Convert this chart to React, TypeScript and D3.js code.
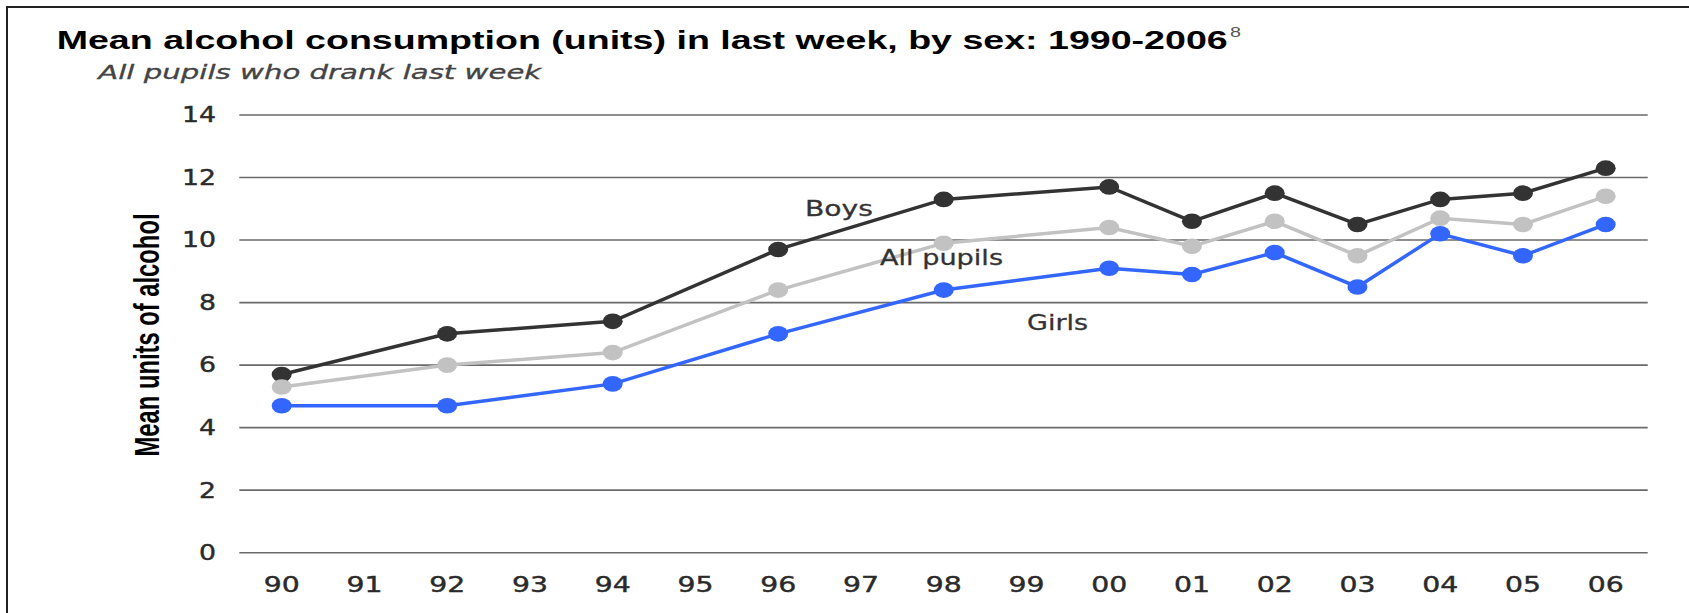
import React from 'react';
import * as d3 from 'd3';

// years on the x axis (two-digit labels as printed)
const years = ['90', '91', '92', '93', '94', '95', '96', '97', '98', '99', '00', '01', '02', '03', '04', '05', '06'];
const surveyYears = ['90', '92', '94', '96', '98', '00', '01', '02', '03', '04', '05', '06'];

const boys = [5.7, 7.0, 7.4, 9.7, 11.3, 11.7, 10.6, 11.5, 10.5, 11.3, 11.5, 12.3];
const allPupils = [5.3, 6.0, 6.4, 8.4, 9.9, 10.4, 9.8, 10.6, 9.5, 10.7, 10.5, 11.4];
const girls = [4.7, 4.7, 5.4, 7.0, 8.4, 9.1, 8.9, 9.6, 8.5, 10.2, 9.5, 10.5];

const yTicks = [0, 2, 4, 6, 8, 10, 12, 14];

const series = [
  { name: 'Boys', values: boys, color: '#333333' },
  { name: 'All pupils', values: allPupils, color: '#c2c2c2' },
  { name: 'Girls', values: girls, color: '#3366ff' },
];

const W = 1689;
const H = 613;

const App = () => {
  const x = d3.scalePoint<string>().domain(years).range([281.7, 1605.7]);
  const y = d3.scaleLinear().domain([0, 14]).range([552.7, 115]);

  const line = d3
    .line<number>()
    .x((_, i) => x(surveyYears[i]) as number)
    .y((d) => y(d));

  const tickFont = '"DejaVu Sans", Verdana, sans-serif';

  return (
    <svg width={W} height={H} style={{ position: 'absolute', left: 0, top: 0, background: '#fff' }}>
      <rect x={7} y={7} width={W + 20} height={H + 20} fill="#fff" stroke="#222" strokeWidth={2} />

      {/* title */}
      <text x={56.7} y={49} fontFamily='"Liberation Sans", Arial, sans-serif' fontWeight="bold" fontSize={25.5}
        fill="#000" textLength={1171} lengthAdjust="spacingAndGlyphs">
        Mean alcohol consumption (units) in last week, by sex: 1990-2006
      </text>
      <text x={1230} y={37} fontFamily='"Liberation Sans", Arial, sans-serif' fontSize={14} fill="#555"
        textLength={11} lengthAdjust="spacingAndGlyphs">8</text>
      <text x={98.3} y={79} fontFamily={tickFont} fontStyle="italic" fontSize={19} fill="#444"
        stroke="#444" strokeWidth={0.3} textLength={443} lengthAdjust="spacingAndGlyphs">
        All pupils who drank last week
      </text>

      {/* grid */}
      {yTicks.map((t) => (
        <g key={t}>
          <line x1={239.3} x2={1647.7} y1={y(t)} y2={y(t)} stroke="#6a6a6a" strokeWidth={1.6} />
          <text x={216} y={y(t)} dy="0.36em" textAnchor="end" fontFamily={tickFont} fontSize={20.5} fill="#2a2a2a"
            stroke="#2a2a2a" strokeWidth={0.4}
            textLength={String(t).length * 17} lengthAdjust="spacingAndGlyphs">{t}</text>
        </g>
      ))}

      {years.map((yr) => (
        <text key={yr} x={x(yr)} y={591.7} textAnchor="middle" fontFamily={tickFont} fontSize={20.5} fill="#2a2a2a"
          stroke="#2a2a2a" strokeWidth={0.4} textLength={36} lengthAdjust="spacingAndGlyphs">{yr}</text>
      ))}

      <text transform="translate(146,335) scale(1.45,1) rotate(-90)" textAnchor="middle" dy="0.36em"
        fontFamily='"Liberation Sans", Arial, sans-serif' fontWeight="bold" fontSize={24} fill="#000"
        textLength={243} lengthAdjust="spacingAndGlyphs">
        Mean units of alcohol
      </text>

      {/* series */}
      {series.map((s) => (
        <g key={s.name}>
          <path d={line(s.values) ?? ''} fill="none" stroke={s.color} strokeWidth={3.5} />
          {s.values.map((v, i) => (
            <ellipse key={i} cx={x(surveyYears[i])} cy={y(v)} rx={10} ry={7.8} fill={s.color} />
          ))}
        </g>
      ))}

      {/* series labels */}
      <text x={805} y={215.7} fontFamily={tickFont} fontSize={22} fill="#333" stroke="#333" strokeWidth={0.3}
        textLength={68} lengthAdjust="spacingAndGlyphs">Boys</text>
      <text x={880} y={265} fontFamily={tickFont} fontSize={22} fill="#333" stroke="#333" strokeWidth={0.3}
        textLength={123} lengthAdjust="spacingAndGlyphs">All pupils</text>
      <text x={1027} y={330} fontFamily={tickFont} fontSize={22} fill="#333" stroke="#333" strokeWidth={0.3}
        textLength={61} lengthAdjust="spacingAndGlyphs">Girls</text>
    </svg>
  );
};

export default App;
